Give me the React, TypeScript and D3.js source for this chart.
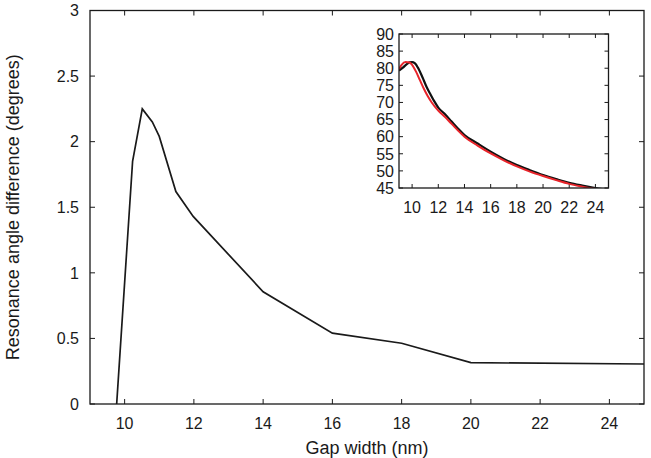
import React from 'react';
import * as d3 from 'd3';

// Main chart: resonance angle difference vs gap width
const mainGap = [9.77, 10.23, 10.51, 10.8, 11.0, 11.48, 11.98, 14.0, 16.0, 18.0, 20.0, 25.0];
const mainDiff = [0, 1.85, 2.25, 2.15, 2.04, 1.62, 1.43, 0.856, 0.54, 0.463, 0.315, 0.305];
const mainXTicks = [10, 12, 14, 16, 18, 20, 22, 24];
const mainYTicks = [0, 0.5, 1, 1.5, 2, 2.5, 3];

// Inset: resonance angles (degrees) for two cases
const insetBlackGap = [9.0, 9.3, 9.6, 9.8, 10.0, 10.2, 10.5, 10.8, 11.1, 11.4, 11.7, 12.0, 12.5, 13.0, 13.5, 14, 15, 16, 17, 18, 19, 20, 21, 22, 23, 24, 25];
const insetBlack = [79.3, 80.2, 81.2, 81.7, 81.8, 81.5, 79.8, 77.3, 74.6, 72.4, 70.3, 68.5, 66.6, 64.5, 62.4, 60.5, 58.0, 55.6, 53.5, 51.7, 50.2, 48.8, 47.6, 46.5, 45.7, 45.0, 44.4];
const insetRedGap = [9.0, 9.2, 9.5, 9.8, 10.0, 10.3, 10.6, 10.9, 11.2, 11.5, 12.0, 12.5, 13, 14, 15, 16, 17, 18, 19, 20, 21, 22, 23, 24, 25];
const insetRed = [79.8, 81.0, 81.8, 81.7, 81.0, 79.0, 76.5, 74.0, 71.8, 70.0, 67.6, 65.8, 63.8, 60.0, 57.4, 55.1, 53.1, 51.3, 49.8, 48.5, 47.3, 46.2, 45.4, 44.7, 44.1];
const insetXTicks = [10, 12, 14, 16, 18, 20, 22, 24];
const insetYTicks = [45, 50, 55, 60, 65, 70, 75, 80, 85, 90];

const W = 651;
const H = 458;
const FONT = '"Liberation Sans", Arial, Helvetica, sans-serif';
const INK = '#1a1a1a';

export default function App() {
  const x = d3.scaleLinear().domain([9, 25]).range([90, 644]);
  const y = d3.scaleLinear().domain([0, 3]).range([404, 10.5]);

  const ix = d3.scaleLinear().domain([9, 25]).range([399, 608.5]);
  const iy = d3.scaleLinear().domain([45, 90]).range([188, 34]);

  const mainLine = d3
    .line<number>()
    .x((_, i) => x(mainGap[i]))
    .y((d) => y(d));

  const blackLine = d3
    .line<number>()
    .x((_, i) => ix(insetBlackGap[i]))
    .y((d) => iy(d))
    .curve(d3.curveMonotoneX);
  const redLine = d3
    .line<number>()
    .x((_, i) => ix(insetRedGap[i]))
    .y((d) => iy(d))
    .curve(d3.curveMonotoneX);

  const [x0, x1] = x.range();
  const [y0, y1] = y.range();
  const [ix0, ix1] = ix.range();
  const [iy0, iy1] = iy.range();
  const tk = 5;
  const itk = 4;
  const fs = 16;
  const tfs = 18;

  return (
    <svg
      width={W}
      height={H}
      style={{ position: 'absolute', left: 0, top: 0, background: '#fff' }}
      fontFamily={FONT}
    >
      <defs>
        <clipPath id="mainClip">
          <rect x={x0} y={y1} width={x1 - x0} height={y0 - y1} />
        </clipPath>
        <clipPath id="insetClip">
          <rect x={ix0} y={iy1} width={ix1 - ix0} height={iy0 - iy1} />
        </clipPath>
      </defs>
      <rect x={0} y={0} width={W} height={H} fill="#fff" />

      {/* main ticks */}
      {mainXTicks.map((t) => (
        <g key={'mx' + t}>
          <line x1={x(t)} x2={x(t)} y1={y0} y2={y0 - tk} stroke={INK} strokeWidth={1} />
          <line x1={x(t)} x2={x(t)} y1={y1} y2={y1 + tk} stroke={INK} strokeWidth={1} />
          <text x={x(t)} y={429} textAnchor="middle" fontSize={fs} fill={INK}>
            {t}
          </text>
        </g>
      ))}
      {mainYTicks.map((t) => (
        <g key={'my' + t}>
          <line x1={x0} x2={x0 + tk} y1={y(t)} y2={y(t)} stroke={INK} strokeWidth={1} />
          <line x1={x1} x2={x1 - tk} y1={y(t)} y2={y(t)} stroke={INK} strokeWidth={1} />
          <text x={79} y={y(t)} dy="0.36em" textAnchor="end" fontSize={fs} fill={INK}>
            {t}
          </text>
        </g>
      ))}

      {/* main curve */}
      <path
        d={mainLine(mainDiff) || ''}
        fill="none"
        stroke={INK}
        strokeWidth={1.7}
        clipPath="url(#mainClip)"
      />

      {/* main frame */}
      <rect x={x0} y={y1} width={x1 - x0} height={y0 - y1} fill="none" stroke={INK} strokeWidth={1.3} />

      {/* axis titles */}
      <text x={(x0 + x1) / 2} y={454} textAnchor="middle" fontSize={tfs} fill={INK}>
        Gap width (nm)
      </text>
      <text
        transform={`translate(19, ${(y0 + y1) / 2}) rotate(-90)`}
        textAnchor="middle"
        fontSize={tfs}
        fill={INK}
      >
        Resonance angle difference (degrees)
      </text>

      {/* inset */}
      <rect x={ix0} y={iy1} width={ix1 - ix0} height={iy0 - iy1} fill="#fff" />
      {insetXTicks.map((t) => (
        <g key={'ix' + t}>
          <line x1={ix(t)} x2={ix(t)} y1={iy0} y2={iy0 - itk} stroke={INK} strokeWidth={1} />
          <line x1={ix(t)} x2={ix(t)} y1={iy1} y2={iy1 + itk} stroke={INK} strokeWidth={1} />
          <text x={ix(t)} y={213} textAnchor="middle" fontSize={fs} fill={INK}>
            {t}
          </text>
        </g>
      ))}
      {insetYTicks.map((t) => (
        <g key={'iy' + t}>
          <line x1={ix0} x2={ix0 + itk} y1={iy(t)} y2={iy(t)} stroke={INK} strokeWidth={1} />
          <line x1={ix1} x2={ix1 - itk} y1={iy(t)} y2={iy(t)} stroke={INK} strokeWidth={1} />
          <text x={394} y={iy(t)} dy="0.36em" textAnchor="end" fontSize={fs} fill={INK}>
            {t}
          </text>
        </g>
      ))}
      <g clipPath="url(#insetClip)">
        <path d={blackLine(insetBlack) || ''} fill="none" stroke="#111" strokeWidth={2.2} />
        <path d={redLine(insetRed) || ''} fill="none" stroke="#e8242a" strokeWidth={2} />
      </g>
      <rect x={ix0} y={iy1} width={ix1 - ix0} height={iy0 - iy1} fill="none" stroke={INK} strokeWidth={1.3} />
    </svg>
  );
}
